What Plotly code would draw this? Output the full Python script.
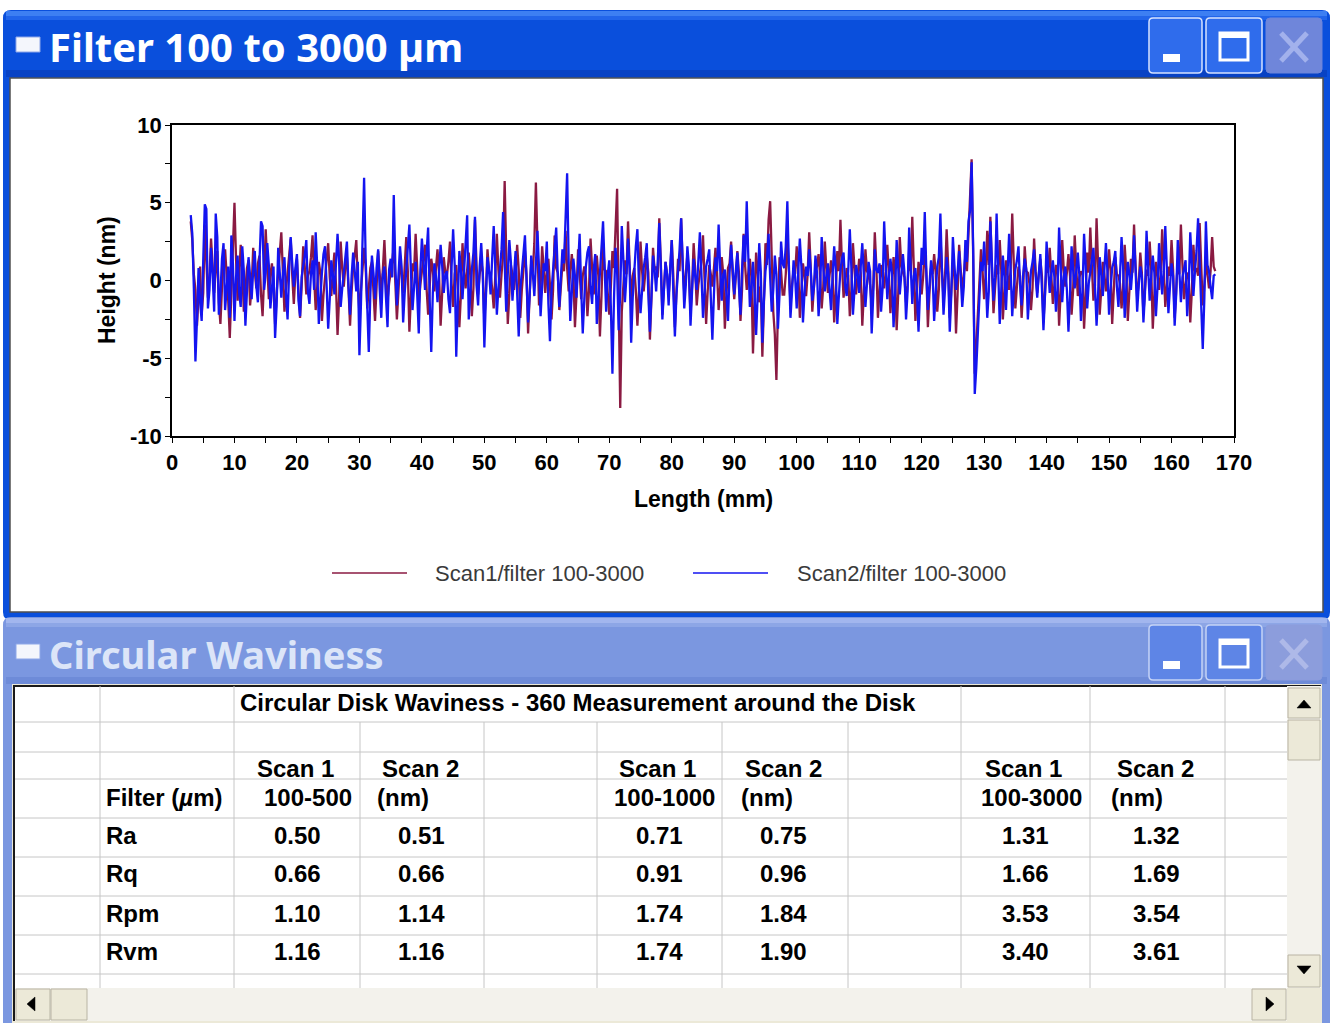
import plotly.graph_objects as go

W, H = 1332, 1023

# ---------------- data ----------------
WINDOW1_TITLE = "Filter 100 to 3000 µm"
WINDOW2_TITLE = "Circular Waviness"
SCAN1_NAME = "Scan1/filter 100-3000"
SCAN2_NAME = "Scan2/filter 100-3000"
X_TITLE = "Length (mm)"
Y_TITLE = "Height (nm)"

LENGTH_START_MM = 3.0
SAMPLE_STEP_MM = 0.25

scan1_height_nm = [
    3.8, 2.6, 0.4, -0.6, -2.9, -1.2, 0.9, -2.2, -0.8, 3.6, 1.5, -1.1, 0.3, 2.7, 1.0, -0.8, 0.6, 1.9, -1.4, -2.8,
    -0.5, 1.2, 2.0, 0.4, -1.3, -3.7, -0.9, 1.8, 5.0, 1.4, -1.3, 0.2, 2.3, 0.7, -2.0, -0.6, 0.8, 1.3, -1.6, -0.4,
    2.1, 0.6, -0.5, 1.1, 1.6, -0.9, -2.3, 0.3, 3.3, 1.0, -1.2, 0.4, 1.1, -0.6, -2.8, -0.8, 0.7, 1.9, 3.1, 0.5,
    -2.0, -0.6, 0.5, 1.4, 2.7, 0.3, -1.5, 0.4, 1.4, -0.7, -2.4, -0.4, 2.2, 0.9, -0.9, 0.3, 0.6, 1.5, 2.9, 0.2,
    -1.9, -0.4, 1.2, 0.5, -2.6, -0.9, 0.4, 1.3, 2.4, 0.2, -1.0, 0.6, 1.8, -0.3, -3.5, -1.1, 2.5, 0.8, -0.4, 0.9,
    1.5, -0.5, -2.9, -0.7, 0.9, 1.6, 2.6, -0.2, -2.1, -0.6, 0.5, 2.1, 0.9, -1.8, -0.5, 0.8, 1.2, -0.9, -2.6, -0.4,
    1.9, 0.4, -0.9, 0.7, 2.6, 0.3, -1.3, -0.2, 0.4, 1.2, 2.2, -0.4, -2.5, -0.7, 1.3, 0.5, -0.8, 0.9, 2.8, 0.6,
    -3.3, -1.0, 1.1, 0.6, 3.0, 0.8, -1.6, -0.3, 0.6, 1.1, 2.3, -0.5, -2.2, -0.4, 1.4, 0.7, -0.7, 0.8, 2.0, 0.4,
    -2.9, -0.8, 1.5, 0.5, 0.3, 1.2, 2.5, -0.2, -1.7, 0.4, 1.0, -0.6, -3.0, -0.9, 2.4, 0.6, -0.5, 0.7, 1.8, 0.3,
    -2.3, -0.5, 3.9, 1.0, -0.9, 0.4, 1.3, 0.5, -2.6, -0.7, 2.0, 0.6, 0.4, -0.5, -1.8, 0.3, 3.0, 0.7, -1.1, 0.4,
    1.6, 6.4, 2.2, -2.8, -0.9, 1.0, 0.4, -0.6, 0.5, 2.3, 0.7, -2.4, -0.6, 0.7, 1.9, 0.4, -3.4, -1.0, 1.2, 0.5,
    2.4, 6.3, 1.8, -1.6, -0.4, 2.2, 0.8, -0.8, 0.6, 1.4, -0.3, -2.5, -0.6, 2.9, 0.8, 0.5, -1.9, -0.4, 1.1, 0.6,
    3.2, 0.8, -0.7, 0.5, 1.7, 0.4, -3.0, -0.9, 2.0, 0.6, -1.2, 0.3, 0.9, 0.2, -2.3, -0.6, 2.7, 0.8, -0.9, 0.4,
    1.6, 0.3, -3.6, -1.0, 2.4, 0.7, 0.6, -0.8, -2.2, -0.4, 1.9, 0.8, 3.5, 5.9, -1.0, -8.2, -2.0, -0.6, 1.3, 0.4,
    3.8, 1.0, -1.4, 0.3, 0.8, -0.6, -2.9, -0.7, 2.5, 0.6, -0.7, 0.4, 1.6, 0.5, -3.8, -1.1, 2.1, 0.7, 0.9, 0.2,
    4.0, 1.1, -2.2, -0.5, 1.2, 0.4, -1.0, 0.5, 2.6, 0.3, -3.0, -0.8, 1.4, 0.6, 4.0, 1.0, -0.8, 0.4, 1.7, 0.3,
    -2.1, -0.4, 2.4, 0.7, -1.6, -0.3, 0.5, 1.2, 2.9, 0.4, -2.8, -0.7, 1.0, 0.4, -0.4, 0.8, 2.1, 0.5, -1.9, -0.4,
    1.5, 0.4, -3.1, -0.9, 0.8, 1.1, 2.5, 0.3, -1.2, 0.2, 1.9, 0.5, -2.6, -0.6, 3.0, 0.9, -0.6, 0.5, 1.4, 0.2,
    -4.7, -1.3, 1.8, 0.6, -1.4, -0.4, -4.9, -1.5, 2.4, 1.0, 3.9, 5.1, 1.6, -2.0, -3.5, -6.4, -1.8, 1.5, 0.6, -0.9,
    -0.9, 0.4, 2.8, 0.8, -1.5, -0.3, 0.7, 0.4, 2.2, 0.6, -2.4, -0.6, 1.1, 0.3, -1.0, 0.4, 3.1, 0.8, -2.0, -0.5,
    0.6, 0.9, 1.7, 0.3, -1.8, -0.4, 2.5, 0.7, -0.8, 0.3, 1.3, 0.4, -2.7, -0.8, 1.9, 0.6, 3.9, 1.0, -1.1, -0.2,
    0.8, 0.3, -2.3, -0.6, 2.4, 0.8, -0.9, 0.2, 1.4, 0.5, -2.9, -0.8, 2.0, 0.6, 0.4, -0.3, -1.6, -0.4, 3.1, 0.9,
    -2.4, -0.6, 1.0, 0.3, -0.5, 0.6, 2.3, 0.5, -2.1, -0.5, 1.5, 0.4, -3.2, -0.9, 2.8, 0.9, 0.6, 0.2, -1.4, -0.3,
    1.9, 0.6, 4.1, 1.2, -2.6, -0.7, 1.2, 0.4, -0.9, 0.3, 2.2, 0.5, -3.0, -0.8, 0.8, 0.4, 1.7, 0.5, -2.0, -0.6,
    2.9, 0.7, -1.2, 0.3, 3.3, 0.9, -2.4, -0.6, 1.1, 0.4, -3.4, -0.9, 2.3, 0.7, -0.7, 0.3, 1.6, 0.6, 3.0, 4.8,
    7.8, 1.5, -6.0, -4.2, -2.4, -0.6, 2.0, 0.6, -1.2, 0.3, 3.2, 1.0, 4.1, 0.8, -2.1, -0.5, 1.0, 0.4, 2.6, 0.6,
    -2.5, -0.7, 1.3, 0.4, -0.6, 0.8, 4.3, 1.1, -1.8, -0.4, 0.9, 0.3, -2.4, -0.6, 2.2, 0.6, 0.5, -0.2, -1.9, -0.5,
    2.7, 0.6, -0.8, 0.4, 1.4, 0.3, -2.7, -0.8, 0.9, 0.5, 2.1, 0.4, -1.5, -0.3, 1.0, 0.6, -2.9, -0.8, 2.6, 0.7,
    -0.4, 0.5, 1.7, 0.3, -2.2, -0.6, 2.9, 0.8, -1.0, 0.2, 0.6, 0.4, -3.1, -0.9, 1.8, 0.5, 3.4, 0.9, -1.3, -0.3,
    4.0, 1.0, -2.2, -0.6, 1.2, 0.4, -0.7, 0.3, 2.0, 0.6, -2.8, -0.7, 1.5, 0.4, 0.3, -0.2, -1.8, -0.5, 2.3, 0.6,
    -2.6, -0.7, 1.4, 0.5, 3.6, 0.9, -1.1, -0.2, 1.8, 0.5, -2.2, -0.6, 0.7, 0.3, 2.5, 0.7, -3.1, -0.9, 1.2, 0.4,
    -0.6, 0.4, 3.3, 0.9, -1.7, -0.4, 0.9, 0.3, 2.6, 0.7, -2.4, -0.6, 1.3, 0.4, 3.6, 1.0, -1.2, -0.3, 0.5, 0.2,
    -2.7, -0.7, 2.3, 0.6, 0.8, 0.3, 3.7, 1.0, -1.6, -0.4, 1.2, 0.4, -0.5, 0.6, 2.8, 0.9, 0.6,
]

scan2_height_nm = [
    4.2, 3.0, -0.5, -5.2, -2.5, 0.8, -1.4, -2.6, 1.3, 4.9, 4.6, -1.8, -0.6, 2.1, 0.4, -2.0, 4.3, 2.8, -2.2, -0.9,
    1.4, 2.4, -1.9, -0.3, 0.9, -2.4, 2.9, 1.1, -2.6, 0.2, 1.6, -0.8, -1.7, 2.2, 0.6, -2.9, -0.7, 1.5, 0.3, -1.2,
    0.7, 1.9, -0.4, -1.4, 1.2, 3.8, 3.5, -0.6, 0.5, 2.4, 1.0, -1.8, -0.5, 0.9, -3.7, -1.6, 2.1, 0.8, -1.1, 0.4,
    1.5, -0.9, -2.5, 0.6, 2.8, 1.1, -0.4, 0.8, 1.7, -1.3, -2.3, 0.2, 0.8, 1.6, 2.6, -0.7, -1.5, 0.5, 1.3, -0.6,
    3.1, 0.9, -2.8, -1.0, 0.5, 1.7, 2.2, -0.3, -3.1, -1.2, 1.3, 0.4, -0.9, 1.1, 3.0, 1.2, -1.7, -0.5, 0.6, 1.4,
    2.5, -0.4, -2.2, 0.3, 1.8, 0.6, -0.7, 1.2, -4.8, -1.5, 2.3, 6.6, 1.4, -1.8, -4.6, -0.9, 1.6, 0.5, -1.2, 0.8,
    2.0, -0.6, -2.4, 0.4, 0.9, -1.1, -3.0, 0.7, 1.4, 0.2, 5.5, 1.0, -1.6, 0.3, 2.2, 0.9, -2.7, -0.8, 0.8, 1.9,
    3.6, 0.5, -1.9, -0.4, 1.2, -0.9, -3.4, 0.6, 2.7, 1.3, -0.6, 1.8, 3.4, -1.2, -4.6, -0.8, 1.1, 0.3, -1.4, 0.5,
    2.3, 0.9, -0.8, 0.4, 0.6, -1.2, -2.1, 0.8, 3.3, 1.0, -4.9, -1.4, 1.9, 0.7, -1.2, 0.6, 2.8, 4.2, -2.5, -0.6,
    0.7, 1.8, 4.1, -0.3, -1.6, 0.9, 2.4, 0.5, -4.3, -1.1, 1.5, 0.6, -0.9, 1.4, 3.5, 0.8, -2.2, -0.5, 0.8, 2.0,
    4.4, 0.7, -2.0, 0.4, 2.6, 1.2, -1.3, 0.3, 1.9, -0.8, -3.6, -0.6, 0.4, 1.7, 2.9, -0.2, -2.7, -1.0, 1.6, 0.5,
    -1.0, 1.1, 3.2, 0.8, -2.3, -0.4, 1.1, 0.6, 2.5, -1.5, -3.9, -0.7, 0.8, 1.6, 3.4, 0.4, -1.7, 0.2, 2.0, 1.1,
    3.9, 6.9, 1.2, -2.6, -0.8, 1.4, 0.3, -1.1, 0.9, 3.0, -0.5, -3.4, -1.2, 0.9, 1.8, 2.2, -0.4, -1.5, 0.7, 1.7,
    -2.8, -0.9, 0.6, 2.1, 3.8, 0.5, -2.0, 0.4, 1.3, -1.7, -6.0, -1.2, 2.1, 0.6, -3.2, -0.8, 3.5, 1.4, -1.4, 0.3,
    2.7, 0.8, -4.0, -1.1, 1.0, 2.2, 3.3, -0.4, -2.1, -0.6, 0.8, 1.5, 2.4, -0.9, -3.3, -1.0, 1.6, 0.7, -0.7, 1.2,
    3.7, 0.9, -2.5, -0.6, 1.2, 0.4, -1.6, 0.9, 2.6, -0.8, -3.6, -0.9, 0.5, 2.0, 4.0, 0.6, -1.8, -0.3, 2.2, 0.9,
    -2.9, -0.7, 1.4, 0.3, -0.6, 1.2, 3.1, 0.4, -2.4, -0.8, 0.9, 1.4, 2.0, -1.1, -3.8, -0.9, 1.5, 0.6, 3.6, 0.8,
    -1.3, 0.4, 0.7, -0.9, -2.6, 0.5, 2.3, 0.8, -0.9, 0.6, 1.8, -0.4, -2.2, 0.7, 2.9, 1.2, 5.1, 1.6, -1.7, -0.5,
    1.2, -0.8, -3.5, -1.0, 2.4, 0.6, -4.0, -1.3, 0.6, 1.4, 3.0, 0.2, -2.0, -0.6, 1.6, 0.4, -3.1, -0.9, 2.5, 1.1,
    0.8, 2.2, 5.1, 1.0, -2.4, -0.7, 1.3, 0.2, -1.8, 0.6, 2.7, 0.9, -2.7, -0.8, 0.9, 0.3, 2.0, 0.6, -1.3, -0.4,
    1.6, 0.5, -2.3, -0.6, 2.8, 0.9, -0.7, 0.3, 1.1, -0.5, -1.9, 0.4, 2.2, 0.7, -2.8, -1.0, 0.7, 1.4, 1.8, -0.3,
    -1.0, 0.6, 3.3, 0.8, -2.2, -0.6, 1.0, 0.4, -0.8, 0.9, 2.4, 0.3, -1.7, -0.2, 1.2, 0.6, -3.4, -1.0, 2.0, 0.7,
    0.5, 1.1, -2.0, -0.5, 3.8, 1.2, -1.2, 0.2, 1.4, 0.5, -3.0, -0.9, 2.6, 0.8, -0.9, 0.4, 1.7, 0.5, -2.5, -0.7,
    3.4, 0.9, -1.5, 0.3, 0.8, -0.8, -3.3, -0.6, 2.1, 1.0, 4.4, 0.6, -1.9, -0.3, 1.3, 0.5, -2.6, -0.8, 0.9, 1.5,
    4.3, 0.7, -2.2, -0.5, 1.5, 0.4, -3.3, -0.9, 2.8, 1.0, -0.6, 0.5, 1.9, 0.3, -1.7, -0.4, 2.6, 1.2, 3.8, 4.5,
    7.6, 2.0, -7.3, -5.6, -3.1, -0.8, 1.2, 0.6, 2.5, 0.4, -2.4, -0.7, 3.8, 1.1, -1.3, 0.2, 4.3, 0.8, -2.8, -0.6,
    1.6, 0.3, -1.9, 0.5, 3.0, 0.6, -2.3, -0.6, 0.7, 1.3, 2.2, -0.2, -1.6, 0.4, 1.4, 0.7, -2.5, -0.8, 0.6, 1.2,
    2.0, 0.3, -1.1, 0.4, 1.7, -0.5, -3.2, -0.9, 2.5, 0.8, -0.8, 0.4, 1.3, 0.2, -2.0, -0.6, 3.4, 0.9, -1.4, 0.2,
    0.9, -0.6, -3.3, -0.9, 2.2, 0.7, -0.5, 0.6, 1.8, 0.3, -2.6, -0.7, 3.0, 1.0, -1.8, -0.2, 0.6, 1.1, 2.1, -0.4,
    -2.9, -0.8, 1.5, 0.4, -1.0, 0.7, 2.4, 0.5, -2.2, -0.5, 0.8, 1.2, 1.9, -0.4, -1.7, 0.3, 2.8, 0.9, -2.4, -0.6,
    1.2, 0.4, -0.6, 0.8, 2.9, 0.6, -2.0, -0.3, 0.9, 0.2, -2.7, -0.8, 3.2, 0.9, -1.3, 0.3, 1.6, 0.5, -2.3, -0.5,
    2.4, 0.7, -0.9, 0.6, 3.5, 0.8, -2.1, -0.4, 1.1, 0.3, -2.9, -0.9, 2.6, 0.6, -1.4, 0.2, 0.7, 1.3, -2.3, -0.5,
    3.1, 0.5, -1.0, 0.6, 1.9, 4.0, 0.8, -1.8, -4.4, -1.2, 3.8, 1.0, 0.6, -0.4, -1.2, 0.3, 0.4,
]

x_tick_vals = list(range(0, 171, 10))
y_tick_vals = [-10, -5, 0, 5, 10]
y_tick_text = ["-10", "-5", "0", "5", "10"]

# table
TABLE_TITLE = "Circular Disk Waviness - 360 Measurement around the Disk"
FILTER_LABEL = "Filter (<i>µ</i>m)"
UNIT_LABEL = "(nm)"
scan_headers = ["Scan 1", "Scan 2"]
filter_ranges = ["100-500", "100-1000", "100-3000"]
metrics = ["Ra", "Rq", "Rpm", "Rvm"]
scan1_values = {
    "100-500": [0.50, 0.66, 1.10, 1.16],
    "100-1000": [0.71, 0.91, 1.74, 1.74],
    "100-3000": [1.31, 1.66, 3.53, 3.40],
}
scan2_values = {
    "100-500": [0.51, 0.66, 1.14, 1.16],
    "100-1000": [0.75, 0.96, 1.84, 1.90],
    "100-3000": [1.32, 1.69, 3.54, 3.61],
}

# ---------------- helpers ----------------
def px(x):
    return x / W


def py(y):
    return 1 - y / H


shapes = []
annotations = []


def rect(x0, y0, x1, y1, fill, line=None, lw=0, layer="below"):
    shapes.append(dict(type="rect", xref="paper", yref="paper",
                       x0=px(x0), x1=px(x1), y0=py(y1), y1=py(y0),
                       fillcolor=fill, line=dict(color=line or fill, width=lw), layer=layer))


def seg(x0, y0, x1, y1, color, width=1, layer="below"):
    shapes.append(dict(type="line", xref="paper", yref="paper",
                       x0=px(x0), x1=px(x1), y0=py(y0), y1=py(y1),
                       line=dict(color=color, width=width), layer=layer))


def poly(points, fill, layer="below"):
    d = "M " + " L ".join(f"{px(a):.5f},{py(b):.5f}" for a, b in points) + " Z"
    shapes.append(dict(type="path", xref="paper", yref="paper", path=d,
                       fillcolor=fill, line=dict(color=fill, width=0.5), layer=layer))


def rrect(x0, y0, x1, y1, r, fill, line, lw, layer="below"):
    def p(a, b):
        return f"{px(a):.5f},{py(b):.5f}"
    d = (f"M {p(x0 + r, y0)} L {p(x1 - r, y0)} Q {p(x1, y0)} {p(x1, y0 + r)} "
         f"L {p(x1, y1 - r)} Q {p(x1, y1)} {p(x1 - r, y1)} L {p(x0 + r, y1)} "
         f"Q {p(x0, y1)} {p(x0, y1 - r)} L {p(x0, y0 + r)} Q {p(x0, y0)} {p(x0 + r, y0)} Z")
    shapes.append(dict(type="path", xref="paper", yref="paper", path=d,
                       fillcolor=fill, line=dict(color=line, width=lw), layer=layer))


def text(x, y, s, size, color="black", anchor="left", family="Liberation Sans", weight="bold", angle=0):
    annotations.append(dict(x=px(x), y=py(y), xref="paper", yref="paper", text=s, showarrow=False,
                            xanchor=anchor, yanchor="middle", textangle=angle,
                            font=dict(size=size, color=color, family=family, weight=weight)))


def window_chrome(top, bottom, title, active, title_size):
    frame = "#0A4FDC" if active else "#7B97E0"
    hi = "#3D7FF2" if active else "#A2B6EE"
    low = "#0842C4" if active else "#6E8BD8"
    title_col = "white" if active else "#DCE5F8"
    rrect(3, top, 1330, bottom, 8, frame, frame, 0)
    rect(6, top + 1, 1327, top + 6, hi)
    rect(6, top + 6, 1327, top + 10, "#2265EA" if active else "#8DA6E6")
    rect(6, top + 60, 1327, top + 67, low)
    # icon
    rect(16, top + 27, 40, top + 42, "#F4F6FC", "#8EA7E8", 1)
    text(47, top + 37, title, title_size, title_col, family="Noto Sans", weight="bold")
    # buttons
    bfill = "#2F6CEC" if active else "#5E85E6"
    bline = "#D6E2FF" if active else "#C5D3F6"
    cfill = "#6F86DA" if active else "#8C9DDC"
    xcol = "#A2B1EC" if active else "#AEB9E8"
    rrect(1149, top + 8, 1202, top + 63, 4, bfill, bline, 1.5)
    rrect(1206, top + 8, 1262, top + 63, 4, bfill, bline, 1.5)
    rrect(1266, top + 8, 1322, top + 63, 4, cfill, cfill, 1)
    rect(1163, top + 44, 1180, top + 52, "white")
    rect(1220, top + 23, 1248, top + 50, "rgba(0,0,0,0)", "white", 3)
    rect(1220, top + 23, 1248, top + 28, "white")
    seg(1281, top + 23, 1307, top + 51, xcol, 5)
    seg(1307, top + 23, 1281, top + 51, xcol, 5)


# ---------------- window 1 (chart) ----------------
window_chrome(10, 620, WINDOW1_TITLE, True, 40)
rect(10, 78, 1323, 612, "white", "#505050", 1.5)

# ---------------- window 2 (table) ----------------
window_chrome(617, 1030, WINDOW2_TITLE, False, 38)
rect(12, 684, 1322, 1023, "#ECE9D8")
rect(14, 686, 1287, 988, "white")
seg(13, 686, 1321, 686, "#1A1A1A", 2)
seg(14, 686, 14, 1021, "#1A1A1A", 2)

# grid
grid = "#C6C6C6"
col_lines = [100, 234, 360, 484, 597, 722, 848, 961, 1090, 1225]
row_lines = [722, 752, 779, 818, 857, 896, 935, 974]
for cx in col_lines:
    y_start = 686 if cx in (100, 234, 961, 1090, 1225) else 722
    seg(cx, y_start, cx, 988, grid, 1)
for ry in row_lines:
    seg(15, ry, 1287, ry, grid, 1)

# table text
TFS = 24
text(238, 702, TABLE_TITLE, TFS)
scan1_x = [297, 659, 1025]
scan2_x = [421, 784, 1156]
range_x = [308, 664, 1031]
unit_x = [375, 739, 1109]
text(104, 797, FILTER_LABEL, TFS)
for i, fr in enumerate(filter_ranges):
    text(scan1_x[i] - 2, 768, scan_headers[0], TFS, anchor="center")
    text(scan2_x[i] - 1, 768, scan_headers[1], TFS, anchor="center")
    text(range_x[i], 797, fr, TFS, anchor="center")
    text(unit_x[i], 797, UNIT_LABEL, TFS)
row_y = [835, 873, 913, 951]
for r, m in enumerate(metrics):
    text(104, row_y[r], m, TFS)
    for i, fr in enumerate(filter_ranges):
        text(scan1_x[i], row_y[r], f"{scan1_values[fr][r]:.2f}", TFS, anchor="center")
        text(scan2_x[i], row_y[r], f"{scan2_values[fr][r]:.2f}", TFS, anchor="center")

# scrollbars
track = "#F3F2EC"
btn = "#ECE9D8"
btn_line = "#B9B4A4"
rect(1287, 686, 1321, 988, track)
rect(1288, 688, 1320, 718, btn, btn_line, 1)
poly([(1297, 708), (1311, 708), (1304, 700)], "black")
rect(1288, 720, 1320, 760, btn, btn_line, 1)
rect(1288, 955, 1320, 987, btn, btn_line, 1)
poly([(1297, 966), (1311, 966), (1304, 974)], "black")
rect(15, 988, 1287, 1021, track)
rect(16, 989, 50, 1020, btn, btn_line, 1)
poly([(35, 997), (35, 1011), (27, 1004)], "black")
rect(51, 989, 87, 1020, btn, btn_line, 1)
rect(1252, 989, 1286, 1020, btn, btn_line, 1)
poly([(1266, 997), (1266, 1011), (1274, 1004)], "black")
rect(1287, 988, 1321, 1021, btn)

# ---------------- chart ----------------
x_left, x_right, y_top, y_bot = 172, 1234, 125, 436
scan1_len = [LENGTH_START_MM + SAMPLE_STEP_MM * i for i in range(len(scan1_height_nm))]
scan2_len = [LENGTH_START_MM + SAMPLE_STEP_MM * i for i in range(len(scan2_height_nm))]
red = "#8A1A42"
blue = "#1414F0"

fig = go.Figure()
fig.add_trace(go.Scatter(x=scan1_len, y=scan1_height_nm, mode="lines", name=SCAN1_NAME,
                         line=dict(color=red, width=2.3)))
fig.add_trace(go.Scatter(x=scan2_len, y=scan2_height_nm, mode="lines", name=SCAN2_NAME,
                         line=dict(color=blue, width=2.3)))

tickfont = dict(family="Liberation Sans", size=22, color="black", weight="bold")
fig.update_xaxes(domain=[px(x_left), px(x_right)], range=[0, 170], tickmode="array", tickvals=x_tick_vals,
                 ticks="outside", ticklen=5, tickwidth=1.2, tickcolor="black",
                 minor=dict(dtick=5, tick0=0, ticks="outside", ticklen=5, tickwidth=1.2, tickcolor="black"),
                 showline=True, linecolor="black", linewidth=1.5, mirror=True, automargin=False,
                 showgrid=False, zeroline=False, tickfont=tickfont, ticklabelstandoff=1, fixedrange=True)
fig.update_yaxes(domain=[py(y_bot), py(y_top)], range=[-10, 10], tickmode="array", tickvals=y_tick_vals,
                 ticktext=y_tick_text, ticks="outside", ticklen=5, tickwidth=1.2, tickcolor="black",
                 minor=dict(dtick=2.5, tick0=0, ticks="outside", ticklen=5, tickwidth=1.2, tickcolor="black"),
                 showline=True, linecolor="black", linewidth=1.5, mirror=True, automargin=False,
                 showgrid=False, zeroline=False, tickfont=tickfont, ticklabelstandoff=-1, fixedrange=True)

text(107, 280, Y_TITLE, 23, anchor="center", angle=-90)
text(703, 499, X_TITLE, 23, anchor="center")

# manual legend
seg(332, 573, 407, 573, red, 1.6, layer="above")
seg(693, 573, 768, 573, blue, 1.6, layer="above")
text(433, 573, SCAN1_NAME, 22, color="#3A3A3A", weight="normal")
text(795, 573, SCAN2_NAME, 22, color="#3A3A3A", weight="normal")

fig.update_layout(width=W, height=H, autosize=False,
                  margin=dict(l=0, r=0, t=0, b=0, pad=0, autoexpand=False),
                  paper_bgcolor="white", plot_bgcolor="white", showlegend=False,
                  shapes=shapes, annotations=annotations)

fig.write_html("out.html", config={"displayModeBar": False, "responsive": False},
               post_script="document.body.style.margin='0px';document.body.style.padding='0px';"
                           "document.body.style.overflow='hidden';"
                           "document.documentElement.style.overflow='hidden';")
